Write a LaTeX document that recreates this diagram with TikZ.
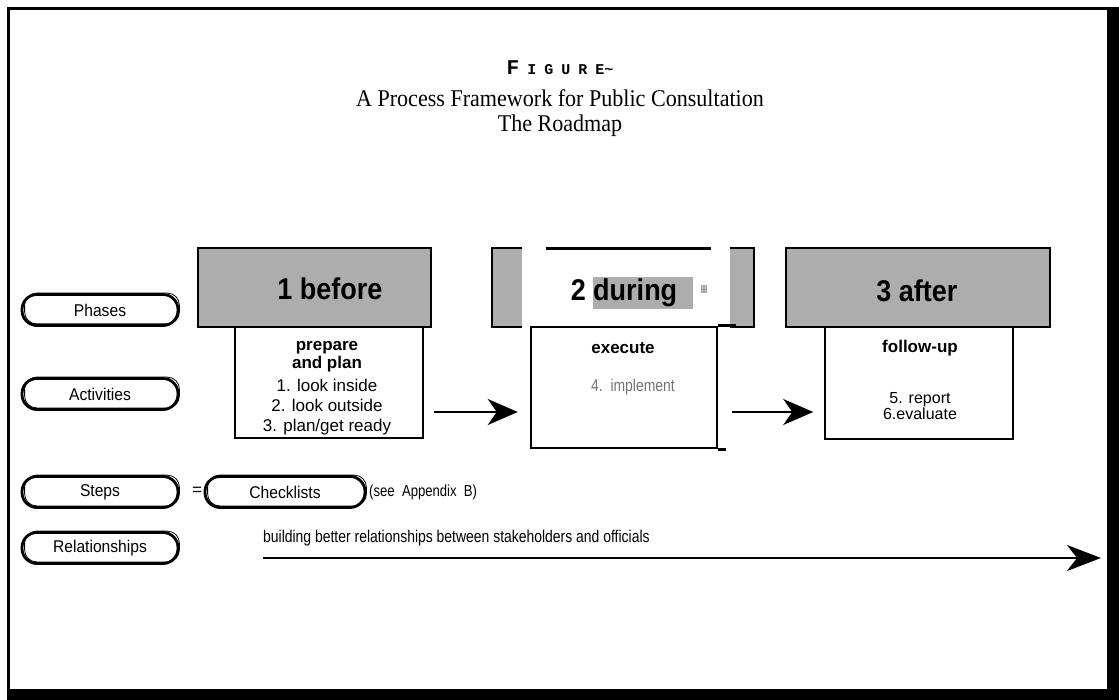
\documentclass[tikz,border=0pt]{standalone}
\usepackage{fontspec}
\setmainfont{Liberation Serif}
\setsansfont{Liberation Sans}
\newfontfamily\helv{Liberation Sans}
\newfontfamily\helvcond[FakeStretch=0.9]{Liberation Sans}
\newfontfamily\helvpill[FakeStretch=0.92]{Liberation Sans}
\newfontfamily\helvnarrow[FakeStretch=0.82]{Liberation Sans}
\newfontfamily\titleserif[FakeStretch=0.92]{Liberation Serif}
\newfontfamily\figfont{Liberation Mono}
\usetikzlibrary{arrows.meta,calc}
\definecolor{halftone}{gray}{0.68}
\definecolor{graytext}{gray}{0.45}
\tikzset{
  phasebox/.style={draw, line width=1.5pt, fill=halftone, minimum height=79pt, inner sep=0pt},
  actbox/.style={draw, line width=1.5pt, fill=white, inner sep=0pt},
  pill/.style={draw, line width=2.8pt, rounded corners=15pt, minimum width=156pt, minimum height=31pt,
    inner sep=0pt, font=\helvpill\fontsize{17}{17}\selectfont},
  phasetext/.style={font=\helvcond\bfseries\fontsize{30}{30}\selectfont, inner sep=0pt},
  acttext/.style={font=\helv\fontsize{17}{20}\selectfont, align=center, inner sep=0pt},
  actbold/.style={font=\helv\bfseries\fontsize{17}{18}\selectfont, align=center, inner sep=0pt},
  bigarrow/.style={line width=2pt, -{Stealth[length=30pt,width=26pt,inset=9pt]}},
}
\newcommand{\pillinner}[1]{%
  \draw[line width=0.8pt, rounded corners=12pt] ([shift={(4,-3)}]#1.south west) rectangle (#1.north east);}
\newcommand{\fsp}{\hspace{8pt}}
\begin{document}
\begin{tikzpicture}[x=1pt,y=-1pt]
\path[use as bounding box] (0,0) rectangle (1119,700);
\fill[white] (0,0) rectangle (1119,700);
% frame
\draw[line width=3pt] (8,700) -- (8,9) -- (1110,9);
\fill[black] (1107,7.5) rectangle (1119,700);
\fill[black] (6.5,689) rectangle (1119,700);

% title
\node[inner sep=0pt, font=\figfont\bfseries\fontsize{21}{21}\selectfont] (fig) at (560,68)
  {F\fsp\fontsize{15}{15}\selectfont I\fsp G\fsp U\fsp R\fsp E\textasciitilde};
\node[inner sep=0pt, font=\titleserif\fontsize{24}{24}\selectfont] (title1) at (560,98)
  {A Process Framework for Public Consultation};
\node[inner sep=0pt, font=\titleserif\fontsize{24}{24}\selectfont] (title2) at (560,126)
  {The Roadmap};

% phase 1
\node[phasebox, minimum width=233pt] (ph1) at (314.5,287.5) {};
\node[phasetext] (ph1t) at (330,289) {1 before};
% phase 2 (broken)
\fill[halftone] (492,248) rectangle (522,327);
\draw[line width=1.5pt] (522,248) -- (492,248) -- (492,327) -- (522,327);
\fill[halftone] (730,248) rectangle (754,327);
\draw[line width=1.5pt] (730,248) -- (754,248) -- (754,327) -- (730,327);
\draw[line width=3pt] (546,249) -- (711,249);
\fill[halftone] (593,277) rectangle (693,309);
\node[phasetext] (ph2t) at (624,293) {2 during};
\fill[halftone] (701,285) rectangle (707,293);
% phase 3
\node[phasebox, minimum width=264pt] (ph3) at (918,287.5) {};
\node[phasetext] (ph3t) at (917,291) {3 after};

% activity boxes
\node[actbox, minimum width=188pt, minimum height=111pt] (act1) at (329,382.5) {};
\node[actbox, line width=2.5pt, minimum width=186pt, minimum height=121pt] (act2) at (624,387.5) {};
\draw[line width=2.5pt] (act2.north east) -- ++(18,0);
\draw[line width=2.5pt] (act2.south east) -- ++(8,0);
\node[actbox, minimum width=188pt, minimum height=112pt] (act3) at (919,383) {};

% activity texts
\node[actbold] (a1h) at (327,357) {prepare\\and plan};
\node[acttext] (a1l) at (327,407) {1. look inside\\2. look outside\\3. plan/get ready};
\node[actbold] (a2h) at (623,348) {execute};
\node[acttext, font=\helvnarrow\fontsize{17}{20}\selectfont, text=graytext] (a2l) at (633,387) {4.\ \ implement};
\node[actbold] (a3h) at (920,348) {follow-up};
\node[acttext, font=\helv\fontsize{16}{14}\selectfont] (a3l) at (920,406) {5. report\\6.evaluate};

% arrows between activity boxes
\draw[bigarrow] ([xshift=10pt,yshift=-29.5pt]act1.east) -- ([xshift=-12pt,yshift=-24.5pt]act2.west);
\draw[bigarrow] ([xshift=14pt,yshift=-24.5pt]act2.east) -- ([xshift=-11pt,yshift=-29pt]act3.west);

% legend pills
\node[pill] (phases) at (100,310) {Phases};
\pillinner{phases}
\node[pill] (activities) at (100,394) {Activities};
\pillinner{activities}
\node[pill] (steps) at (100,492) {Steps};
\pillinner{steps}
\node[inner sep=0pt, font=\helv\fontsize{17}{17}\selectfont] (eq) at (197,491) {=};
\node[pill, minimum width=160pt] (checklists) at (285,492) {Checklists};
\pillinner{checklists}
\node[inner sep=0pt, anchor=west, font=\helvnarrow\fontsize{16}{16}\selectfont] (appx) at (369,492) {(see\ \ Appendix\ \ B)};
\node[pill] (relationships) at (100,548) {Relationships};
\pillinner{relationships}

% relationship arrow
\coordinate (relstart) at (263,558);
\coordinate (relend) at (1101,558);
\node[inner sep=0pt, anchor=base west, font=\helvnarrow\fontsize{17}{17}\selectfont] (reltext) at (263,542)
  {building better relationships between stakeholders and officials};
\draw[line width=2.5pt, -{Stealth[length=34pt,width=26pt,inset=10pt]}] (relstart) -- (relend);
\end{tikzpicture}
\end{document}
